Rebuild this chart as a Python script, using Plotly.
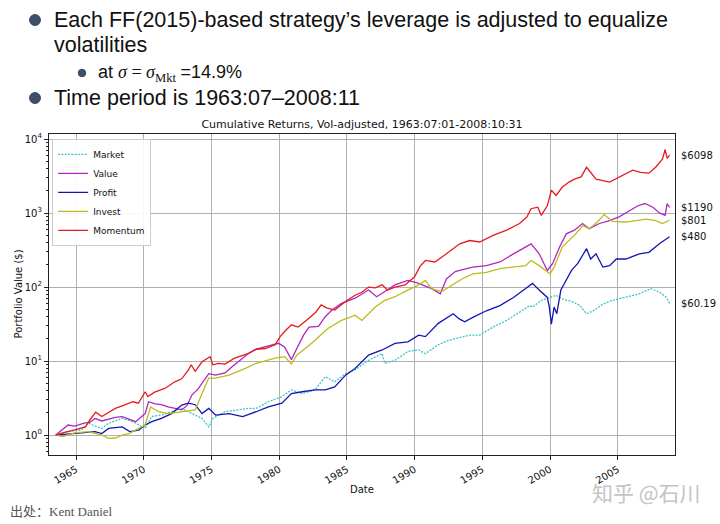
import math
import plotly.graph_objects as go

# ---------------- data ----------------
# time in decimal years, values stored as log10(portfolio value in $)
mom_t = [1963.5, 1964.0, 1964.9, 1965.7, 1966.0, 1966.45, 1966.9, 1967.4, 1967.9, 1968.5,
         1969.2, 1969.6, 1970.1, 1970.3, 1970.8, 1971.55, 1972.3, 1972.8, 1973.3, 1973.5,
         1973.8, 1974.3, 1974.9, 1975.1, 1975.5, 1976.0, 1976.7, 1977.7, 1978.3, 1978.97,
         1979.7, 1980.07, 1980.4, 1980.9, 1981.4, 1982.2, 1982.7, 1983.1, 1983.5, 1984.1,
         1985.0, 1985.6, 1986.1, 1986.6, 1987.1, 1987.6, 1988.0, 1988.55, 1989.3, 1990.0,
         1990.4, 1990.8, 1991.5, 1992.2, 1993.0, 1993.33, 1994.07, 1994.8, 1995.8, 1996.8,
         1997.75, 1998.3, 1998.6, 1999.1, 1999.35, 1999.8, 2000.1, 2000.45, 2000.9, 2001.4,
         2001.8, 2002.3, 2002.7, 2003.0, 2003.4, 2004.4, 2005.1, 2006.1, 2006.7, 2007.3,
         2007.8, 2008.3, 2008.5, 2008.65, 2008.83]
mom_log = [0.0, 0.03, 0.07, 0.11, 0.20, 0.31, 0.25, 0.30, 0.36, 0.40,
           0.45, 0.43, 0.585, 0.52, 0.58, 0.63, 0.72, 0.76, 0.88, 0.95,
           0.86, 0.99, 1.06, 0.95, 0.97, 0.96, 1.04, 1.10, 1.16, 1.17,
           1.22, 1.33, 1.40, 1.49, 1.46, 1.58, 1.66, 1.76, 1.72, 1.69,
           1.82, 1.89, 1.93, 2.00, 1.99, 2.03, 1.96, 2.00, 2.03, 2.14,
           2.28, 2.36, 2.34, 2.43, 2.54, 2.585, 2.63, 2.61, 2.70, 2.77,
           2.86, 2.95, 3.06, 3.08, 2.97, 3.10, 3.31, 3.24, 3.35, 3.42,
           3.46, 3.49, 3.62, 3.55, 3.46, 3.42, 3.49, 3.58, 3.55, 3.54,
           3.62, 3.73, 3.86, 3.74, 3.785]

val_t = [1963.5, 1964.0, 1964.4, 1964.9, 1965.6, 1966.0, 1966.4, 1966.9, 1967.4, 1967.9,
         1968.4, 1968.9, 1969.4, 1970.1, 1970.35, 1970.85, 1971.3, 1971.8, 1972.3, 1972.8,
         1973.2, 1973.55, 1974.0, 1974.3, 1974.8, 1975.3, 1976.0, 1976.5, 1977.0, 1977.7,
         1978.3, 1978.97, 1979.95, 1980.4, 1980.9, 1981.3, 1981.8, 1982.2, 1982.9, 1983.4,
         1983.9, 1984.6, 1985.6, 1986.6, 1987.2, 1987.8, 1988.55, 1989.5, 1990.3, 1991.25,
         1991.9, 1992.35, 1993.0, 1993.33, 1994.3, 1995.3, 1996.3, 1997.3, 1998.2, 1998.6,
         1999.2, 1999.8, 2000.2, 2000.7, 2001.2, 2001.8, 2002.4, 2002.9, 2003.65, 2004.4,
         2005.1, 2005.9, 2006.5, 2007.0, 2007.6, 2008.1, 2008.5, 2008.65, 2008.83]
val_log = [0.0, 0.08, 0.135, 0.12, 0.16, 0.17, 0.225, 0.19, 0.22, 0.24,
           0.25, 0.22, 0.18, 0.29, 0.45, 0.42, 0.41, 0.38, 0.36, 0.34,
           0.40, 0.54, 0.62, 0.70, 0.83, 0.81, 0.84, 0.92, 0.99, 1.10,
           1.16, 1.19, 1.24, 1.19, 1.02, 1.17, 1.35, 1.46, 1.47, 1.60,
           1.69, 1.78, 1.85, 1.96, 1.87, 1.94, 2.03, 2.09, 2.05, 1.98,
           1.91, 2.11, 2.21, 2.225, 2.27, 2.29, 2.34, 2.45, 2.54, 2.585,
           2.45, 2.225, 2.32, 2.54, 2.72, 2.77, 2.86, 2.79, 2.86, 2.90,
           2.95, 3.04, 3.10, 3.13, 3.08, 3.00, 2.97, 3.13, 3.076]

inv_t = [1963.5, 1964.0, 1964.9, 1965.9, 1966.9, 1967.4, 1967.9, 1968.4, 1968.9, 1969.65,
         1970.1, 1970.5, 1971.1, 1971.8, 1972.8, 1973.8, 1974.3, 1974.8, 1975.3, 1976.3,
         1977.5, 1978.3, 1979.7, 1980.4, 1980.9, 1981.3, 1982.4, 1983.6, 1984.6, 1985.6,
         1986.1, 1987.1, 1987.8, 1988.55, 1989.5, 1990.3, 1990.8, 1991.25, 1992.0, 1992.5,
         1993.0, 1993.5, 1994.3, 1995.3, 1996.3, 1997.3, 1998.2, 1998.6, 1999.2, 2000.0,
         2000.3, 2000.9, 2001.4, 2001.9, 2002.4, 2002.9, 2003.5, 2004.0, 2004.6, 2005.6,
         2006.35, 2007.1, 2007.8, 2008.3, 2008.83]
inv_log = [0.0, -0.02, 0.03, 0.045, 0.0, -0.045, -0.04, 0.0, 0.02, 0.09,
           0.135, 0.38, 0.315, 0.29, 0.315, 0.34, 0.56, 0.77, 0.77, 0.81,
           0.90, 0.97, 1.04, 1.06, 0.96, 1.08, 1.24, 1.44, 1.55, 1.62,
           1.55, 1.73, 1.82, 1.87, 1.96, 2.03, 2.09, 1.98, 1.94, 2.00,
           2.05, 2.11, 2.18, 2.20, 2.25, 2.27, 2.29, 2.36, 2.29, 2.18,
           2.27, 2.54, 2.63, 2.72, 2.83, 2.79, 2.88, 2.98, 2.89, 2.88,
           2.90, 2.92, 2.90, 2.86, 2.904]

pro_t = [1963.5, 1964.4, 1965.4, 1966.4, 1966.9, 1967.4, 1968.4, 1969.0, 1969.65, 1970.1,
         1970.6, 1971.3, 1972.05, 1972.8, 1973.3, 1973.8, 1974.3, 1974.8, 1975.3, 1976.3,
         1977.3, 1978.3, 1979.2, 1980.2, 1980.9, 1981.7, 1982.65, 1983.4, 1984.1, 1984.9,
         1985.6, 1986.6, 1987.6, 1988.55, 1989.5, 1990.3, 1990.8, 1991.75, 1992.35, 1992.85,
         1993.3, 1993.7, 1994.3, 1995.3, 1996.3, 1997.3, 1998.2, 1998.7, 1999.2, 1999.8,
         1999.95, 2000.1, 2000.3, 2000.5, 2000.8, 2001.2, 2001.6, 2002.05, 2002.7, 2003.0,
         2003.4, 2003.9, 2004.4, 2004.9, 2005.6, 2006.6, 2007.3, 2008.1, 2008.83]
pro_log = [0.0, 0.01, 0.03, 0.045, 0.02, 0.09, 0.11, 0.045, 0.07, 0.135,
           0.18, 0.225, 0.29, 0.405, 0.43, 0.41, 0.29, 0.36, 0.27, 0.29,
           0.25, 0.315, 0.38, 0.43, 0.56, 0.585, 0.61, 0.61, 0.65, 0.81,
           0.90, 1.08, 1.15, 1.24, 1.26, 1.35, 1.33, 1.51, 1.58, 1.64,
           1.57, 1.53, 1.59, 1.68, 1.75, 1.86, 1.98, 2.05, 1.96, 1.86,
           1.73, 1.50, 1.73, 1.64, 1.96, 2.09, 2.23, 2.32, 2.52, 2.38,
           2.45, 2.27, 2.29, 2.38, 2.38, 2.45, 2.47, 2.59, 2.681]

mkt_t = [1963.5, 1964.4, 1965.4, 1965.9, 1966.4, 1966.9, 1967.4, 1968.4, 1968.9, 1969.4,
         1970.1, 1970.6, 1971.3, 1972.05, 1972.8, 1973.55, 1974.3, 1974.8, 1975.1, 1976.0,
         1977.0, 1977.7, 1978.3, 1979.2, 1980.2, 1980.9, 1981.7, 1982.65, 1983.4, 1984.1,
         1984.9, 1985.6, 1986.6, 1987.6, 1987.8, 1988.55, 1989.5, 1990.3, 1990.8, 1991.75,
         1992.5, 1993.33, 1994.07, 1994.8, 1995.8, 1996.8, 1997.75, 1998.5, 1998.7, 1999.35,
         2000.0, 2000.45, 2000.9, 2001.7, 2002.2, 2002.7, 2003.2, 2003.9, 2004.6, 2005.6,
         2006.6, 2007.45, 2008.1, 2008.6, 2008.83]
mkt_log = [0.0, 0.045, 0.07, 0.16, 0.12, 0.09, 0.16, 0.225, 0.20, 0.16,
           0.09, 0.25, 0.27, 0.315, 0.36, 0.29, 0.225, 0.11, 0.225, 0.315,
           0.34, 0.36, 0.36, 0.45, 0.52, 0.61, 0.56, 0.61, 0.79, 0.72,
           0.83, 0.88, 1.01, 1.10, 0.97, 1.01, 1.13, 1.15, 1.10, 1.22,
           1.28, 1.32, 1.35, 1.35, 1.46, 1.55, 1.66, 1.75, 1.73, 1.82,
           1.86, 1.89, 1.84, 1.80, 1.75, 1.64, 1.68, 1.77, 1.82, 1.86,
           1.91, 1.98, 1.93, 1.86, 1.78]

series_names = ["Market", "Value", "Profit", "Invest", "Momentum"]
final_values = [60.19, 1190, 480, 801, 6098]
final_labels = ["$60.19", "$1190", "$480", "$801", "$6098"]
year_ticks = [1965, 1970, 1975, 1980, 1985, 1990, 1995, 2000, 2005]
y_decades = [0, 1, 2, 3, 4]

# ---------------- styling ----------------
W, H = 720, 524
L, R, T, B = 49, 45, 134, 69
PW, PH = W - L - R, H - T - B
FONT = "DejaVu Sans"
colors = ["#3cc3c3", "#b226c0", "#1414b4", "#bcbc1e", "#e61c1c"]
dashes = ["2px,1.3px", "solid", "solid", "solid", "solid"]


def px(xpix):
    return (xpix - L) / PW


def py(ypix):
    return (H - B - ypix) / PH


fig = go.Figure()
all_t = [mkt_t, val_t, pro_t, inv_t, mom_t]
all_log = [mkt_log, val_log, pro_log, inv_log, mom_log]
for name, t, lg, c, d in zip(series_names, all_t, all_log, colors, dashes):
    fig.add_trace(go.Scatter(
        x=t, y=[10 ** v for v in lg], mode="lines", name=name,
        line=dict(color=c, width=1.3, dash=d)))

annotations = []
for v, lab in zip(final_values, final_labels):
    annotations.append(dict(x=1.006, xref="paper", y=math.log10(v), yref="y",
                            text=lab, showarrow=False, xanchor="left",
                            font=dict(family=FONT, size=10, color="#111")))

# axis titles
annotations.append(dict(x=0.5, xref="paper", y=py(490), yref="paper", text="Date",
                        showarrow=False, yanchor="middle",
                        font=dict(family=FONT, size=10, color="#111")))
annotations.append(dict(x=px(18), xref="paper", y=0.5, yref="paper",
                        text="Portfolio Value ($)", textangle=-90, showarrow=False,
                        xanchor="center",
                        font=dict(family=FONT, size=10, color="#111")))

# slide text
SANS = "Liberation Sans, Arial"
annotations += [
    dict(x=px(52), y=py(20), text="Each FF(2015)-based strategy’s leverage is adjusted to equalize",
         font=dict(family=SANS, size=21.5, color="#111")),
    dict(x=px(52), y=py(45), text="volatilities", font=dict(family=SANS, size=21.5, color="#111")),
    dict(x=px(96), y=py(73),
         text="at <span style='font-family:Liberation Serif'><i>σ</i> = <i>σ</i><sub>Mkt</sub> </span>=14.9%",
         font=dict(family=SANS, size=18, color="#111")),
    dict(x=px(52), y=py(98), text="Time period is 1963:07–2008:11",
         font=dict(family=SANS, size=21.5, color="#111")),
    dict(x=px(8), y=py(512), text="出处：Kent Daniel",
         font=dict(family="Liberation Serif, Noto Sans CJK SC", size=13, color="#555")),
    dict(x=px(590), y=py(492), text="知乎 @石川",
         font=dict(family="Noto Sans CJK SC", size=21, color="#c4c4c4")),
]
for a in annotations[-6:]:
    a.update(xref="paper", yref="paper", showarrow=False, xanchor="left", yanchor="middle")

shapes = []
for cx, cy, r in [(35, 20, 5.5), (35, 98, 5.5), (82, 73, 3.8)]:
    shapes.append(dict(type="circle", xref="paper", yref="paper",
                       x0=px(cx - r), x1=px(cx + r), y0=py(cy + r), y1=py(cy - r),
                       fillcolor="#3e4f6c", line=dict(color="#2c3a52", width=0.8)))

minor_vals = [m * 10 ** k for k in range(-1, 4) for m in range(2, 10)]

fig.update_layout(
    width=W, height=H,
    margin=dict(l=L, r=R, t=T, b=B, pad=0),
    paper_bgcolor="white", plot_bgcolor="white",
    title=dict(text="Cumulative Returns, Vol-adjusted, 1963:07:01-2008:10:31",
               x=0.5, xref="paper", xanchor="center", y=1 - 124 / H, yanchor="middle",
               font=dict(family=FONT, size=11, color="#111")),
    font=dict(family=FONT, size=10, color="#111"),
    showlegend=True,
    legend=dict(x=0.005, y=0.985, xanchor="left", yanchor="top",
                bgcolor="rgba(255,255,255,0.9)", bordercolor="#cccccc", borderwidth=1,
                font=dict(family=FONT, size=9, color="#111"), tracegroupgap=0),
    annotations=annotations,
    shapes=shapes,
)
fig.update_xaxes(range=[1963.0, 2009.23], tickvals=year_ticks,
                 ticktext=[str(y) for y in year_ticks], tickangle=-30,
                 showgrid=True, gridcolor="#b0b0b0", gridwidth=1,
                 showline=True, linecolor="#222", linewidth=1.2, mirror=True,
                 ticks="outside", ticklen=4, tickcolor="#222",
                 tickfont=dict(family=FONT, size=10, color="#111"), zeroline=False)
fig.update_yaxes(type="log", range=[-0.27, 4.07],
                 tickvals=[10 ** k for k in y_decades],
                 ticktext=["10<sup>%d</sup>" % k for k in y_decades],
                 showgrid=True, gridcolor="#b0b0b0", gridwidth=1,
                 showline=True, linecolor="#222", linewidth=1.2, mirror=True,
                 ticks="outside", ticklen=4, tickcolor="#222",
                 minor=dict(tickvals=minor_vals, ticks="outside", ticklen=2,
                            tickcolor="#222", showgrid=False),
                 tickfont=dict(family=FONT, size=10, color="#111"), zeroline=False)

fig.write_html("out.html", config={"displayModeBar": False},
               post_script="document.body.style.margin='0px';")
